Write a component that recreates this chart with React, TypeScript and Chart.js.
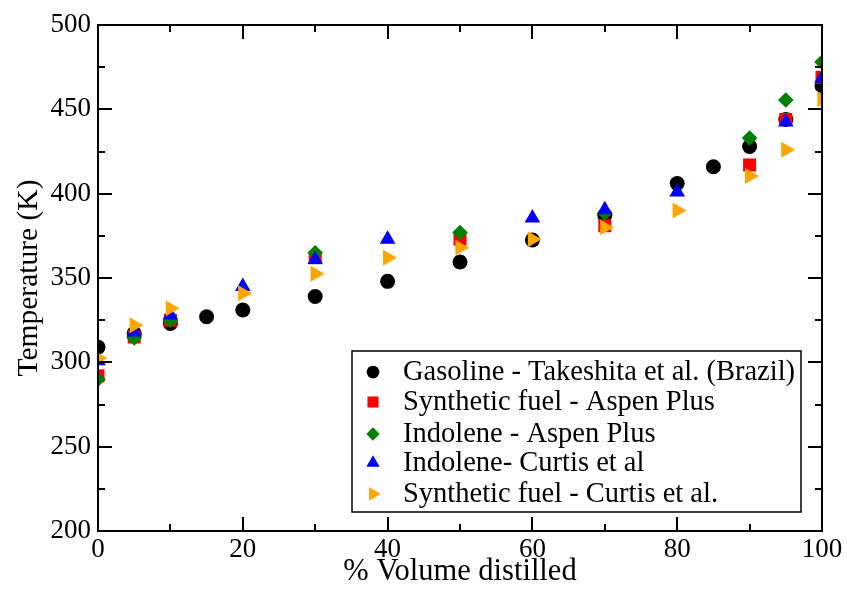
import React, { useEffect, useRef } from "react";
import { Chart, registerables } from "chart.js";

Chart.register(...registerables);

const seriesNames = [
  "Gasoline - Takeshita et al. (Brazil)",
  "Synthetic fuel - Aspen Plus",
  "Indolene - Aspen Plus",
  "Indolene- Curtis et al",
  "Synthetic fuel - Curtis et al.",
];

const gasolineX = [0, 5, 10, 15, 20, 30, 40, 50, 60, 70, 80, 85, 90, 95, 100];
const gasolineY = [309, 317, 323, 327, 331, 339, 348, 359.5, 372.5, 387, 406, 416, 428, 444, 464];

const synAspenX = [0, 5, 10, 30, 50, 70, 90, 95, 100];
const synAspenY = [292, 315, 325, 362, 373, 381, 417, 444, 469];

const indAspenX = [0, 5, 10, 30, 50, 70, 90, 95, 100];
const indAspenY = [290, 314.5, 325, 365, 377, 388.5, 433, 455.5, 478];

const indCurtisX = [0, 5, 10, 20, 30, 40, 60, 70, 80, 95, 100];
const indCurtisY = [301, 318, 328, 345, 361, 373, 385.5, 390.5, 401, 442.5, 468.5];

const synCurtisX = [0, 5, 10, 20, 30, 40, 50, 60, 70, 80, 90, 95, 100];
const synCurtisY = [302.5, 322, 332, 341, 352.5, 362, 368, 373, 380, 390, 410.5, 426, 456];

const xTicks = [0, 20, 40, 60, 80, 100];
const yTicks = [200, 250, 300, 350, 400, 450, 500];

const FONT = "'Liberation Serif', 'Times New Roman', serif";

const zip = (xs: number[], ys: number[]) => xs.map((x, i) => ({ x, y: ys[i] }));

const styles = [
  { color: "#000000", pointStyle: "circle", radius: 7.5, rotation: 0 },
  { color: "#ff0000", pointStyle: "rect", radius: 9.2, rotation: 0 },
  { color: "#008000", pointStyle: "rectRot", radius: 7.8, rotation: 0 },
  { color: "#0000ff", pointStyle: "triangle", radius: 9, rotation: 0 },
  { color: "#ffa500", pointStyle: "triangle", radius: 9.2, rotation: 90 },
];

function drawMarker(ctx: CanvasRenderingContext2D, style: string, r: number, x: number, y: number, rot: number, color: string) {
  ctx.save();
  ctx.fillStyle = color;
  ctx.translate(x, y);
  ctx.rotate((rot * Math.PI) / 180);
  ctx.beginPath();
  if (style === "circle") {
    ctx.arc(0, 0, r, 0, Math.PI * 2);
  } else if (style === "rect") {
    const s = Math.SQRT1_2 * r;
    ctx.rect(-s, -s, 2 * s, 2 * s);
  } else if (style === "rectRot") {
    ctx.moveTo(0, -r);
    ctx.lineTo(r, 0);
    ctx.lineTo(0, r);
    ctx.lineTo(-r, 0);
    ctx.closePath();
  } else if (style === "triangle") {
    ctx.moveTo(0, -r);
    ctx.lineTo(r * Math.sin(Math.PI / 3), r * 0.5);
    ctx.lineTo(-r * Math.sin(Math.PI / 3), r * 0.5);
    ctx.closePath();
  }
  ctx.fill();
  ctx.restore();
}

const frameLegendPlugin = {
  id: "frameLegend",
  afterDraw(chart: any) {
    const { ctx, chartArea, scales } = chart;
    const { left, right, top, bottom } = chartArea;
    const xs = scales.x;
    const ys = scales.y;
    ctx.save();
    ctx.strokeStyle = "#000";
    ctx.lineWidth = 2;
    for (let v = 0; v <= 100; v += 10) {
      const px = Math.round(xs.getPixelForValue(v));
      const len = v % 20 === 0 ? 14 : 7;
      ctx.beginPath();
      ctx.moveTo(px, bottom);
      ctx.lineTo(px, bottom - len);
      ctx.moveTo(px, top);
      ctx.lineTo(px, top + len);
      ctx.stroke();
    }
    for (let v = 200; v <= 500; v += 25) {
      const py = Math.round(ys.getPixelForValue(v));
      const len = v % 50 === 0 ? 14 : 7;
      ctx.beginPath();
      ctx.moveTo(left, py);
      ctx.lineTo(left + len, py);
      ctx.moveTo(right, py);
      ctx.lineTo(right - len, py);
      ctx.stroke();
    }
    ctx.strokeRect(left, top, right - left, bottom - top);

    // legend box
    const bx = 352, by = 351, bw = 449, bh = 161;
    ctx.fillStyle = "#fff";
    ctx.fillRect(bx, by, bw, bh);
    ctx.lineWidth = 1.5;
    ctx.strokeStyle = "#000";
    ctx.strokeRect(bx, by, bw, bh);
    const rows = [372, 402, 434, 463, 494];
    ctx.font = `28.5px ${FONT}`;
    ctx.textBaseline = "middle";
    ctx.textAlign = "left";
    chart.data.datasets.forEach((ds: any, i: number) => {
      const st = styles[i];
      drawMarker(ctx, st.pointStyle, st.radius * 0.85, 373, rows[i], st.rotation, st.color);
      ctx.fillStyle = "#000";
      ctx.fillText(ds.label, 403, rows[i] + 1);
    });
    ctx.restore();
  },
};

export default function App() {
  const ref = useRef<HTMLCanvasElement | null>(null);
  useEffect(() => {
    if (!ref.current) return;
    const all = [
      zip(gasolineX, gasolineY),
      zip(synAspenX, synAspenY),
      zip(indAspenX, indAspenY),
      zip(indCurtisX, indCurtisY),
      zip(synCurtisX, synCurtisY),
    ];
    const chart = new Chart(ref.current, {
      type: "scatter",
      data: {
        datasets: all.map((d, i) => ({
          label: seriesNames[i],
          data: d,
          pointStyle: styles[i].pointStyle as any,
          pointRadius: styles[i].radius,
          pointRotation: styles[i].rotation,
          backgroundColor: styles[i].color,
          borderColor: styles[i].color,
          borderWidth: 0,
          order: 5 - i,
        })),
      },
      options: {
        animation: false,
        responsive: false,
        maintainAspectRatio: false,
        layout: { padding: { left: 0, top: 25, right: 25, bottom: 0 } },
        plugins: { legend: { display: false }, tooltip: { enabled: false } },
        scales: {
          x: {
            type: "linear",
            min: 0,
            max: 100,
            afterBuildTicks: (s: any) => {
              s.ticks = xTicks.map((v) => ({ value: v }));
            },
            afterFit: (s: any) => {
              s.height = 59;
            },
            grid: { display: false, drawTicks: false },
            border: { display: false },
            ticks: { color: "#000", font: { family: FONT, size: 27 }, padding: 3, maxRotation: 0 },
            title: {
              display: true,
              text: "% Volume distilled",
              color: "#000",
              font: { family: FONT, size: 30.5 },
              padding: { top: 0, bottom: 0 },
            },
          },
          y: {
            type: "linear",
            min: 200,
            max: 500,
            afterBuildTicks: (s: any) => {
              s.ticks = yTicks.map((v) => ({ value: v }));
            },
            afterFit: (s: any) => {
              s.width = 98;
            },
            grid: { display: false, drawTicks: false },
            border: { display: false },
            ticks: { color: "#000", font: { family: FONT, size: 27 }, padding: 7 },
            title: {
              display: true,
              text: "Temperature (K)",
              color: "#000",
              font: { family: FONT, size: 29.5 },
              padding: { top: 12, bottom: 0 },
            },
          },
        },
      },
      plugins: [frameLegendPlugin],
    });
    return () => chart.destroy();
  }, []);
  return (
    <div style={{ position: "fixed", left: 0, top: 0, width: 847, height: 590, background: "#fff" }}>
      <canvas ref={ref} width={847} height={590} style={{ width: 847, height: 590 }} />
    </div>
  );
}
